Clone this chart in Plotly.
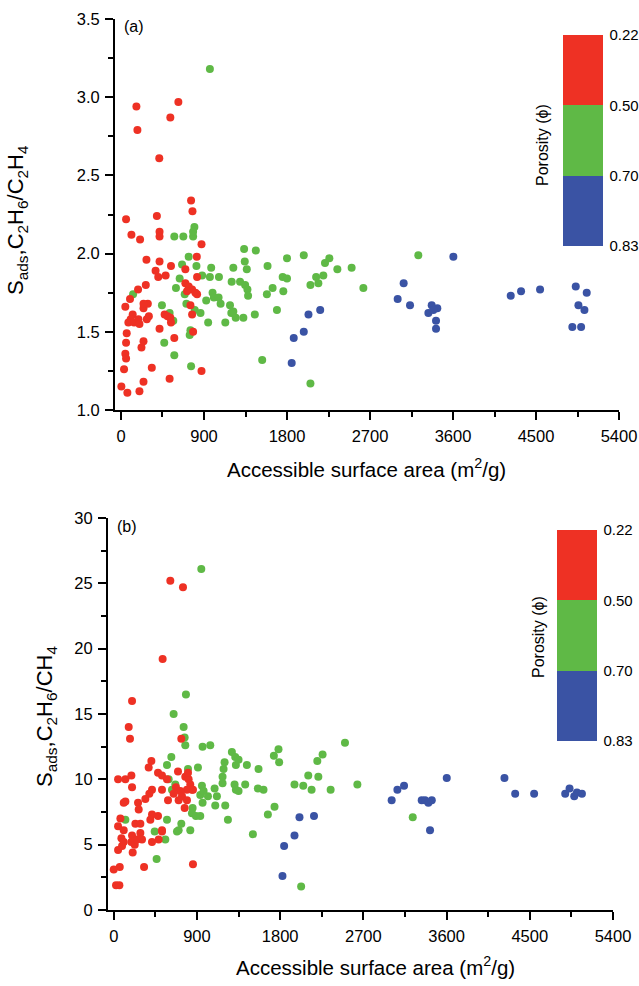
import plotly.graph_objects as go

# ---- panel (a): S_ads C2H6/C2H4 vs accessible surface area ----
a_red_x = [167, 178, 622, 535, 415, 55, 113, 207, 389, 418, 418, 760, 775, 873, 822, 276, 418, 542,
           375, 404, 484, 698, 269, 185, 98, 47, 127, 105, 80, 142, 189, 200, 280, 302, 244, 291, 244,
           62, 55, 47, 55, 33, 4, 69, 200, 244, 334, 222, 244, 418, 473, 505, 542, 535, 578, 527, 698,
           734, 771, 807, 716, 753, 771, 782, 873, 825, 825]
a_red_y = [2.94, 2.79, 2.97, 2.87, 2.61, 2.22, 2.12, 2.09, 2.24, 2.14, 2.11, 2.34, 2.27, 2.06, 1.98,
           1.96, 1.95, 1.92, 1.89, 1.85, 1.86, 1.90, 1.80, 1.77, 1.71, 1.66, 1.61, 1.58, 1.56, 1.56,
           1.58, 1.55, 1.58, 1.60, 1.65, 1.68, 1.68, 1.49, 1.43, 1.36, 1.33, 1.26, 1.15, 1.11, 1.12,
           1.18, 1.27, 1.40, 1.44, 1.52, 1.61, 1.60, 1.56, 1.59, 1.46, 1.20, 1.81, 1.79, 1.77, 1.75,
           1.76, 1.67, 1.61, 1.50, 1.25, 1.85, 1.74]
a_green_x = [964, 131, 578, 676, 782, 796, 782, 662, 818, 734, 636, 596, 691, 709, 800, 862, 753, 745,
             760, 578, 469, 444, 527, 567, 978, 964, 880, 924, 993, 1007, 1058, 1080, 1062, 945, 1131,
             1182, 1196, 1218, 1244, 1327, 1218, 1200, 1291, 1335, 1342, 1364, 1346, 1371, 1378, 1451,
             1462, 1531, 1589, 1582, 1644, 1691, 1760, 1753, 1800, 1800, 2054, 1982, 2054, 2116, 2140,
             2194, 2212, 2259, 2346, 2501, 2628, 3224]
a_green_y = [3.18, 1.74, 2.11, 2.11, 2.11, 2.17, 2.14, 1.93, 1.92, 1.98, 1.84, 1.78, 1.74, 1.68, 1.64,
             1.62, 1.51, 1.48, 1.28, 1.35, 1.43, 1.67, 1.62, 1.57, 1.91, 1.85, 1.86, 1.70, 1.75, 1.72,
             1.72, 1.68, 1.85, 1.56, 1.56, 1.67, 1.62, 1.63, 1.59, 1.59, 1.91, 1.82, 1.82, 2.03, 1.95,
             1.90, 1.80, 1.77, 1.73, 1.61, 2.02, 1.32, 1.92, 1.74, 1.78, 1.64, 1.76, 1.85, 1.97, 1.84,
             1.17, 1.99, 1.80, 1.85, 1.81, 1.86, 1.94, 1.97, 1.90, 1.91, 1.78, 1.99]
a_blue_x = [1873, 1851, 1982, 2033, 2160, 3000, 3065, 3134, 3333, 3369, 3430, 3387, 3416, 3416, 3604,
            4226, 4338, 4544, 4931, 5050, 4960, 5025, 4894, 4989]
a_blue_y = [1.46, 1.30, 1.50, 1.61, 1.64, 1.71, 1.81, 1.67, 1.62, 1.67, 1.65, 1.64, 1.57, 1.52, 1.98,
            1.73, 1.76, 1.77, 1.79, 1.75, 1.67, 1.64, 1.53, 1.53]

# ---- panel (b): S_ads C2H6/CH4 vs accessible surface area ----
b_red_x = [612, 749, 529, 198, 162, 176, 731, 407, 378, 47, 126, 191, 198, 479, 522, 576, 695, 774,
           810, 828, 846, 792, 720, 673, 522, 648, 738, 792, 702, 767, 857, 803, 414, 385, 342, 263,
           270, 108, 126, 414, 479, 396, 72, 47, 108, 234, 288, 522, 486, 522, 414, 288, 198, 191, 227,
           205, 83, 47, 90, 108, 306, 252, 65, 0, 25, 61, 328, 857, 587]
b_red_y = [25.2, 24.7, 19.2, 16.0, 14.0, 13.1, 13.1, 11.4, 10.9, 10.0, 10.0, 10.3, 9.4, 10.5, 10.3,
           10.0, 10.6, 10.2, 10.0, 9.6, 9.2, 9.2, 9.1, 9.4, 9.2, 8.9, 8.7, 8.4, 8.4, 7.8, 9.2, 10.5,
           9.2, 8.9, 8.5, 8.2, 7.7, 8.2, 8.3, 7.3, 7.2, 6.9, 7.0, 6.4, 6.1, 6.6, 6.6, 6.0, 5.4, 6.1,
           5.2, 5.9, 5.7, 5.2, 5.0, 4.4, 5.5, 4.6, 4.9, 5.2, 5.4, 5.4, 3.3, 3.1, 1.9, 1.9, 3.3, 3.5,
           8.4]
b_green_x = [947, 781, 648, 756, 767, 774, 623, 576, 961, 1044, 911, 803, 954, 936, 972, 1019, 961,
             853, 846, 889, 936, 828, 731, 702, 684, 594, 630, 666, 576, 558, 443, 464, 126, 1091,
             1116, 1098, 1206, 1235, 1177, 1188, 1199, 1177, 1278, 1314, 1321, 1350, 1307, 1321, 1350,
             1422, 1440, 1505, 1566, 1559, 1620, 1667, 1739, 1732, 1782, 1789, 1955, 2050, 2140, 2104,
             2213, 2202, 2259, 2346, 2501, 2635, 3234, 2027]
b_green_y = [26.1, 16.5, 15.0, 14.0, 13.2, 12.6, 11.7, 11.1, 12.5, 12.6, 10.9, 10.8, 9.5, 8.8, 9.1,
             8.7, 8.2, 7.8, 7.4, 7.2, 7.2, 6.1, 6.6, 6.1, 6.0, 10.0, 9.2, 9.6, 6.9, 5.4, 6.0, 3.9, 6.9,
             9.3, 8.7, 8.0, 8.0, 6.9, 10.2, 10.8, 11.3, 9.7, 12.1, 11.7, 11.1, 11.5, 9.6, 9.2, 9.1, 9.6,
             11.1, 5.8, 10.8, 9.3, 9.2, 7.3, 7.9, 11.8, 12.3, 11.3, 9.6, 9.5, 9.2, 10.3, 10.2, 11.4,
             11.9, 9.2, 12.8, 9.6, 7.1, 1.8]
b_blue_x = [1825, 1843, 1955, 2009, 2166, 3006, 3068, 3140, 3602, 3331, 3367, 3403, 3440, 3421, 4226,
            4342, 4547, 4883, 4930, 4981, 5010, 5064]
b_blue_y = [2.6, 4.9, 5.7, 7.1, 7.2, 8.4, 9.2, 9.5, 10.1, 8.4, 8.4, 8.2, 8.4, 6.1, 10.1, 8.9, 8.9,
            8.9, 9.3, 8.7, 9.0, 8.9]

# porosity bands (colour bar labels, top to bottom) and their colours
porosity_ticks = ["0.22", "0.50", "0.70", "0.83"]
RED, GREEN, BLUE = "#ee3124", "#5fb946", "#3a53a4"

W, H = 639, 986
FONT = "Liberation Sans, Arial, sans-serif"

# discrete colour scale: level 0.5 -> blue, 1.5 -> green, 2.5 -> red
cscale = [[0, BLUE], [1/3, BLUE], [1/3, GREEN], [2/3, GREEN], [2/3, RED], [1, RED]]


def panel_trace(rx, ry, gx, gy, bx, by, xa, ya, cb_left, cb_top):
    x = bx + gx + rx
    y = by + gy + ry
    lev = [0.5] * len(bx) + [1.5] * len(gx) + [2.5] * len(rx)
    return go.Scatter(
        x=x, y=y, mode="markers", xaxis=xa, yaxis=ya, showlegend=False,
        marker=dict(size=8, color=lev, colorscale=cscale, cmin=0, cmax=3, line=dict(width=0),
                    showscale=True,
                    colorbar=dict(x=cb_left / W, xanchor="left", y=1 - cb_top / H, yanchor="top",
                                  thickness=40, thicknessmode="pixels", len=211, lenmode="pixels",
                                  xpad=0, ypad=0, outlinewidth=0,
                                  ticks="outside", ticklen=4, tickcolor="rgba(0,0,0,0)",
                                  tickvals=[3, 2, 1, 0], ticktext=porosity_ticks,
                                  tickfont=dict(family=FONT, size=15, color="black"))),
    )


fig = go.Figure()
fig.add_trace(panel_trace(a_red_x, a_red_y, a_green_x, a_green_y, a_blue_x, a_blue_y, "x", "y", 563, 35))
fig.add_trace(panel_trace(b_red_x, b_red_y, b_green_x, b_green_y, b_blue_x, b_blue_y, "x2", "y2", 557, 530))

axis_common = dict(showline=True, linecolor="black", linewidth=2, ticks="outside", ticklen=8,
                   tickwidth=2, tickcolor="black", showgrid=False, zeroline=False,
                   ticklabelstandoff=2,
                   tickfont=dict(family=FONT, size=16.5, color="black"))
minor_x = dict(tickvals=list(range(450, 5400, 900)), ticks="outside", ticklen=5, tickwidth=2,
               tickcolor="black")

fig.update_layout(
    width=W, height=H,
    margin=dict(l=0, r=0, t=0, b=0, autoexpand=False),
    paper_bgcolor="white", plot_bgcolor="white",
    font=dict(family=FONT, color="black"),
    xaxis=dict(domain=[115 / W, 619 / W], range=[-65, 5400], tickvals=list(range(0, 5401, 900)),
               minor=minor_x, anchor="y", **axis_common),
    yaxis=dict(domain=[1 - 410 / H, 1 - 19 / H], range=[1.0, 3.5], dtick=0.5, tick0=1.0,
               tickformat=".1f", minor=dict(dtick=0.25, ticks="outside", ticklen=5, tickwidth=2,
                                            tickcolor="black"),
               anchor="x", **axis_common),
    xaxis2=dict(domain=[108 / W, 613 / W], range=[-62, 5400], tickvals=list(range(0, 5401, 900)),
                minor=minor_x, anchor="y2", **axis_common),
    yaxis2=dict(domain=[1 - 910 / H, 1 - 518 / H], range=[0, 30], dtick=5,
                minor=dict(dtick=2.5, ticks="outside", ticklen=5, tickwidth=2, tickcolor="black"),
                anchor="x2", **axis_common),
)

ann = [
    dict(text="(a)", x=122 / W, y=1 - 26 / H, xanchor="left", yanchor="middle", font=dict(size=16)),
    dict(text="(b)", x=115 / W, y=1 - 526 / H, xanchor="left", yanchor="middle", font=dict(size=16)),
    dict(text="S<sub>ads</sub>,C<sub>2</sub>H<sub>6</sub>/C<sub>2</sub>H<sub>4</sub>",
         x=17 / W, y=1 - 220 / H, textangle=-90, xanchor="center", yanchor="middle",
         font=dict(size=22)),
    dict(text="S<sub>ads</sub>,C<sub>2</sub>H<sub>6</sub>/CH<sub>4</sub>",
         x=46 / W, y=1 - 717 / H, textangle=-90, xanchor="center", yanchor="middle",
         font=dict(size=22)),
    dict(text="Accessible surface area (m<sup>2</sup>/g)", x=366 / W, y=1 - 468 / H,
         xanchor="center", yanchor="middle", font=dict(size=20.5)),
    dict(text="Accessible surface area (m<sup>2</sup>/g)", x=375 / W, y=1 - 966 / H,
         xanchor="center", yanchor="middle", font=dict(size=20.5)),
    dict(text="Porosity (\u03d5)", x=542 / W, y=1 - 145 / H, textangle=-90,
         xanchor="center", yanchor="middle", font=dict(size=16)),
    dict(text="Porosity (\u03d5)", x=538 / W, y=1 - 637 / H, textangle=-90,
         xanchor="center", yanchor="middle", font=dict(size=16)),
]
for a in ann:
    a.update(xref="paper", yref="paper", showarrow=False)
    a["font"].update(family=FONT, color="black")
fig.update_layout(annotations=ann)

# page has no body margin, so the 639x986 figure fills the window exactly
fig.write_html("out.html", config={"displayModeBar": False},
               post_script="document.body.style.margin='0';"
                           "document.documentElement.style.overflow='hidden';")
